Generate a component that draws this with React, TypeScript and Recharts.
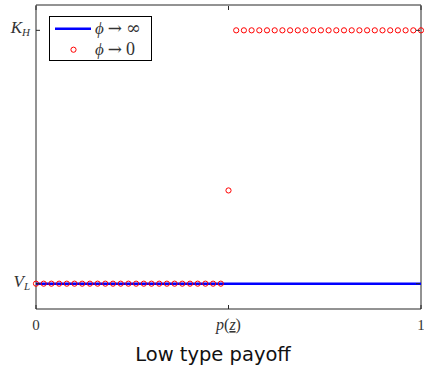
import React from 'react';
import { ComposedChart, Scatter, XAxis, YAxis, Legend } from 'recharts';

// Grid of p values at which the phi -> 0 payoff was evaluated
const xGrid = [
  0, 0.02, 0.04, 0.06, 0.08, 0.1, 0.12, 0.14, 0.16, 0.18,
  0.2, 0.22, 0.24, 0.26, 0.28, 0.3, 0.32, 0.34, 0.36, 0.38,
  0.4, 0.42, 0.44, 0.46, 0.48, 0.5, 0.52, 0.54, 0.56, 0.58,
  0.6, 0.62, 0.64, 0.66, 0.68, 0.7, 0.72, 0.74, 0.76, 0.78,
  0.8, 0.82, 0.84, 0.86, 0.88, 0.9, 0.92, 0.94, 0.96, 0.98, 1,
];
// payoff in normalised units: 0 = V_L, 1 = K_H
const phiZeroPayoff = [
  0, 0, 0, 0, 0, 0, 0, 0, 0, 0,
  0, 0, 0, 0, 0, 0, 0, 0, 0, 0,
  0, 0, 0, 0, 0, 0.368, 1, 1, 1, 1,
  1, 1, 1, 1, 1, 1, 1, 1, 1, 1,
  1, 1, 1, 1, 1, 1, 1, 1, 1, 1, 1,
];
const phiInfX = [0, 1];
const phiInfPayoff = [0, 0];

const xTickValues = [0, 0.5, 1];
const yTickValues = [0, 1];
const yTickMain = ['V', 'K'];
const yTickSub = ['L', 'H'];
const seriesSymbol = '\u03D5';
const seriesArrow = '\u2192';
const seriesLimits = ['\u221E', '0'];
const titleText = 'Low type payoff';

const redData = xGrid.map((x, i) => ({ x, y: phiZeroPayoff[i] }));
const blueData = phiInfX.map((x, i) => ({ x, y: phiInfPayoff[i] }));

const AX = '#262626';
const SERIF = '"Liberation Serif", "DejaVu Serif", serif';
const DJSERIF = '"DejaVu Serif", serif';

const BottomTick = (p: any) => {
  const { x, y, payload } = p;
  const v = payload.value;
  return (
    <g>
      <line x1={x} x2={x} y1={y} y2={y - 4} stroke={AX} strokeWidth={1} />
      {v === 0.5 ? (
        <text x={x} y={y + 21} textAnchor="middle" fontFamily={SERIF} fontSize={16} fill="#333">
          <tspan fontStyle="italic">p</tspan>
          <tspan>(</tspan>
          <tspan fontStyle="italic" textDecoration="underline">z</tspan>
          <tspan>)</tspan>
        </text>
      ) : (
        <text x={x} y={y + 21} textAnchor="middle" fontFamily={SERIF} fontSize={15} fill="#333">
          {String(v)}
        </text>
      )}
    </g>
  );
};

const LeftTick = (p: any) => {
  const { x, y, payload } = p;
  const i = yTickValues.indexOf(payload.value);
  return (
    <g>
      <line x1={x} x2={x + 4} y1={y} y2={y} stroke={AX} strokeWidth={1} />
      <text x={x - 6} y={y + 3} textAnchor="end" fontFamily={SERIF} fontSize={17} fill="#333">
        <tspan fontStyle="italic">{yTickMain[i]}</tspan>
        <tspan fontStyle="italic" fontSize={11} dy={3}>{yTickSub[i]}</tspan>
      </text>
    </g>
  );
};

const TopTick = (p: any) => {
  const { x, y } = p;
  return <line x1={x} x2={x} y1={y + 1} y2={y + 5} stroke={AX} strokeWidth={1} />;
};

const RightTick = (p: any) => {
  const { x, y } = p;
  return <line x1={x - 1} x2={x - 5} y1={y} y2={y} stroke={AX} strokeWidth={1} />;
};

const LegendText = ({ y, i }: { y: number; i: number }) => (
  <text x={46} y={y} fontFamily={SERIF} fontSize={17} fill="#333">
    <tspan fontStyle="italic">{seriesSymbol}</tspan>
    <tspan fontFamily={DJSERIF} fontSize={17} dx={4}>{seriesArrow}</tspan>
    <tspan fontFamily={i === 0 ? DJSERIF : SERIF} fontSize={i === 0 ? 18 : 18} dx={4}>{seriesLimits[i]}</tspan>
  </text>
);

const LegendBox = () => (
  <svg width={103} height={45} style={{ display: 'block' }}>
    <rect x={0.5} y={0.5} width={102} height={44} fill="#fff" stroke="#000" strokeWidth={1} />
    <line x1={6} x2={42} y1={12.7} y2={12.7} stroke="#0000ff" strokeWidth={2.5} />
    <circle cx={24.5} cy={33.7} r={2.6} fill="none" stroke="#ff0000" strokeWidth={1} />
    <LegendText y={18} i={0} />
    <LegendText y={39} i={1} />
  </svg>
);

const TitleLabel = () => (
  <text x={213} y={361} textAnchor="middle" fontFamily='"DejaVu Sans", sans-serif' fontSize={19.5} fill="#111">
    {titleText}
  </text>
);

export default function App() {
  return (
    <div style={{ position: 'absolute', left: 0, top: 0, width: 424, height: 372, background: '#fff' }}>
      <ComposedChart width={424} height={372} margin={{ top: 4, right: 2, left: 0, bottom: 0 }}>
        <XAxis
          xAxisId="b"
          dataKey="x"
          type="number"
          domain={[0, 1]}
          ticks={xTickValues}
          interval={0}
          height={63}
          tickSize={0}
          tickMargin={0}
          tickLine={false}
          axisLine={{ stroke: AX, strokeWidth: 1 }}
          tick={BottomTick}
          label={<TitleLabel />}
        />
        <XAxis
          xAxisId="t"
          orientation="top"
          dataKey="x"
          type="number"
          domain={[0, 1]}
          ticks={xTickValues}
          interval={0}
          height={1}
          tickSize={0}
          tickMargin={0}
          tickLine={false}
          axisLine={{ stroke: AX, strokeWidth: 1 }}
          tick={TopTick}
        />
        <YAxis
          yAxisId="l"
          type="number"
          domain={[-0.1, 1.1]}
          allowDataOverflow
          ticks={yTickValues}
          interval={0}
          width={36}
          tickSize={0}
          tickMargin={0}
          tickLine={false}
          axisLine={{ stroke: AX, strokeWidth: 1 }}
          tick={LeftTick}
        />
        <YAxis
          yAxisId="r"
          orientation="right"
          type="number"
          domain={[-0.1, 1.1]}
          allowDataOverflow
          ticks={yTickValues}
          interval={0}
          width={1}
          tickSize={0}
          tickMargin={0}
          tickLine={false}
          axisLine={{ stroke: AX, strokeWidth: 1 }}
          tick={RightTick}
        />
        {/* invisible series binding the mirrored frame axes */}
        <Scatter
          xAxisId="t"
          yAxisId="r"
          data={blueData}
          dataKey="y"
          legendType="none"
          shape={() => <g />}
          isAnimationActive={false}
        />
        <Scatter
          xAxisId="b"
          yAxisId="l"
          data={blueData}
          dataKey="y"
          line={{ stroke: '#0000ff', strokeWidth: 2.5 }}
          shape={() => <g />}
          isAnimationActive={false}
        />
        <Scatter
          xAxisId="b"
          yAxisId="l"
          data={redData}
          dataKey="y"
          shape={(p: any) => (
            <circle cx={p.cx} cy={p.cy} r={2.6} fill="none" stroke="#ff0000" strokeWidth={1} />
          )}
          isAnimationActive={false}
        />
        <Legend
          layout="vertical"
          align="center"
          verticalAlign="middle"
          wrapperStyle={{ position: 'absolute', left: 49, top: 16, width: 'auto', height: 'auto', margin: 0, padding: 0 }}
          content={() => <LegendBox />}
        />
      </ComposedChart>
    </div>
  );
}
